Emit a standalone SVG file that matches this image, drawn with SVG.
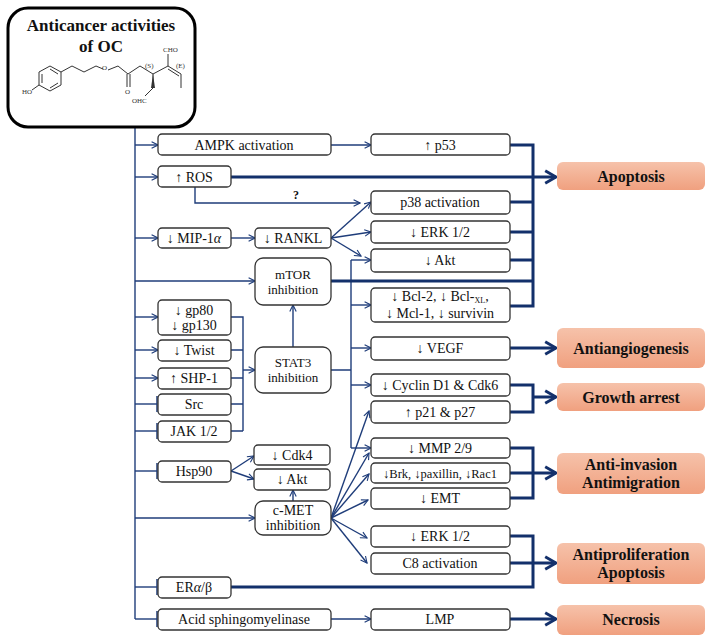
<svg xmlns="http://www.w3.org/2000/svg" width="712" height="644" viewBox="0 0 712 644">
<defs>
<linearGradient id="og" x1="0" y1="0" x2="0" y2="1"><stop offset="0" stop-color="#f6c2aa"/><stop offset="1" stop-color="#f0a07f"/></linearGradient>
<marker id="a" viewBox="0 0 10 10" refX="9" refY="5" markerWidth="8" markerHeight="8" markerUnits="userSpaceOnUse" orient="auto"><path d="M1,1 L9,5 L1,9" fill="none" stroke="#1f3d7a" stroke-width="1.4"/></marker>
<marker id="AA" viewBox="0 0 10 10" refX="8" refY="5" markerWidth="18" markerHeight="18" orient="auto" markerUnits="userSpaceOnUse"><path d="M2,1.5 L8,5 L2,8.5" fill="none" stroke="#13306b" stroke-width="1.6"/></marker>
<marker id="T" viewBox="0 0 4 16" refX="2" refY="8" markerWidth="4" markerHeight="16" orient="auto" markerUnits="userSpaceOnUse"><path d="M2,0 V16" stroke="#1f3d7a" stroke-width="1.5"/></marker>
</defs>
<style>
.b{fill:#fff;stroke:#333;stroke-width:1.3}
.o{fill:url(#og);stroke:none}
.t{font-size:14px;fill:#111;text-anchor:middle}
.ob{font-size:16px;font-weight:bold;fill:#111;text-anchor:middle}
.th{fill:none;stroke:#1f3d7a;stroke-width:1.4}
.tk{fill:none;stroke:#13306b;stroke-width:3}
.ch{fill:none;stroke:#333;stroke-width:1}
.cs{font-size:7px;fill:#333}
</style>
<g id="connectors">
<path class="th" d="M135,127 V619"/>
<path class="th" marker-end="url(#a)" d="M135,145 H158"/>
<path class="th" marker-end="url(#a)" d="M135,177 H158"/>
<path class="th" marker-end="url(#a)" d="M135,238 H158"/>
<path class="th" marker-end="url(#a)" d="M135,281 H255"/>
<path class="th" marker-end="url(#a)" d="M135,317 H158"/>
<path class="th" marker-end="url(#a)" d="M135,350 H158"/>
<path class="th" marker-end="url(#a)" d="M135,378 H158"/>
<path class="th" marker-end="url(#T)" d="M135,404 H157"/>
<path class="th" marker-end="url(#T)" d="M135,431 H157"/>
<path class="th" marker-end="url(#T)" d="M135,471 H157"/>
<path class="th" marker-end="url(#a)" d="M135,518 H255"/>
<path class="th" marker-end="url(#T)" d="M135,587 H157"/>
<path class="th" marker-end="url(#T)" d="M135,619 H157"/>
<path class="th" marker-end="url(#a)" d="M331,145 H371"/>
<path class="th" marker-end="url(#a)" d="M195,187 V203 H360"/>
<path class="th" marker-end="url(#a)" d="M231,238 H255"/>
<path class="th" marker-end="url(#a)" d="M331,238 L371,202"/>
<path class="th" marker-end="url(#a)" d="M331,238 L371,232"/>
<path class="th" marker-end="url(#a)" d="M331,238 L361,256"/>
<path class="th" d="M231,317 H243 V431 M231,350 H243 M231,378 H243 M231,404 H243 M231,431 H243"/>
<path class="th" marker-end="url(#a)" d="M243,370 H255"/>
<path class="th" marker-end="url(#a)" d="M293,347 V305"/>
<path class="th" d="M331,370 H351 M351,260 V448"/>
<path class="th" marker-end="url(#a)" d="M351,260 H371"/>
<path class="th" marker-end="url(#a)" d="M351,305 H371"/>
<path class="th" marker-end="url(#a)" d="M351,348 H371"/>
<path class="th" marker-end="url(#a)" d="M351,385 H371"/>
<path class="th" marker-end="url(#a)" d="M351,448 H371"/>
<path class="th" marker-end="url(#a)" d="M231,471 L254,456"/>
<path class="th" marker-end="url(#a)" d="M231,471 L254,479"/>
<path class="th" marker-end="url(#a)" d="M293,501 V490"/>
<path class="th" marker-end="url(#a)" d="M331,518 L369,411"/>
<path class="th" marker-end="url(#a)" d="M331,518 L369,453"/>
<path class="th" marker-end="url(#a)" d="M331,518 L369,474"/>
<path class="th" marker-end="url(#a)" d="M331,518 L368,500"/>
<path class="th" marker-end="url(#a)" d="M331,518 L367,538"/>
<path class="th" marker-end="url(#a)" d="M331,518 L367,563"/>
<path class="th" marker-end="url(#a)" d="M331,619 H371"/>
<path class="tk" d="M510,145 H533 V306 H510 M510,202 H533 M510,232 H533 M510,260 H533 M331,281 H533"/>
<path class="tk" marker-end="url(#AA)" d="M231,177 H556"/>
<path class="tk" marker-end="url(#AA)" d="M510,348 H556"/>
<path class="tk" d="M510,385 H533 V412 H510"/>
<path class="tk" marker-end="url(#AA)" d="M533,397 H556"/>
<path class="tk" d="M510,448 H533 V498 H510"/>
<path class="tk" marker-end="url(#AA)" d="M510,473 H556"/>
<path class="tk" d="M510,536 H533 V587 H231"/>
<path class="tk" marker-end="url(#AA)" d="M510,563 H556"/>
<path class="tk" marker-end="url(#AA)" d="M510,619 H556"/>
</g>
<g font-family="'Liberation Serif','DejaVu Serif',serif">
<g id="oc">
<rect x="8" y="8" width="187" height="119" rx="20" fill="#fff" stroke="#000" stroke-width="3"/>
<text class="ob" x="101" y="31" style="font-size:17px">Anticancer activities</text>
<text class="ob" x="101" y="52" style="font-size:17px">of OC</text>
<path class="ch" d="M50,66 L61,72 V85 L50,91 L39,85 V72 Z M42,74 V83 M50,88 L58,83 M58,74 L50,69 M61,72 L72,66 L84,72 L96,66 L103,69 M108,70 L118,66 L128,74 L140,66 L153,74 M127,74 V87 M130,74 V87 M153,74 V88 L145,96 M153,74 L168,66 V54 M168,66 L181,74 V88 M168,69 L179,76 M39,85 L32,90"/>
<path d="M153,74 L151,88 L155,88 Z" fill="#333"/>
<text class="cs" x="22" y="94">HO</text><text class="cs" x="102" y="70">O</text><text class="cs" x="125" y="94">O</text>
<text class="cs" x="132" y="103">OHC</text><text class="cs" x="163" y="52">CHO</text><text class="cs" x="145" y="68">(S)</text><text class="cs" x="176" y="68">(E)</text>
</g>
<g id="ampk"><rect class="b" x="158" y="134" width="173" height="21" rx="4"/><text class="t" x="244" y="150">AMPK activation</text></g>
<g id="ros"><rect class="b" x="158" y="166" width="73" height="21" rx="4"/><text class="t" x="194" y="182">↑ ROS</text></g>
<text class="t" x="296" y="199" style="font-weight:bold;font-size:12px">?</text>
<g id="mip"><rect class="b" x="158" y="228" width="73" height="20" rx="4"/><text class="t" x="194" y="243">↓ MIP-1<tspan font-style="italic">α</tspan></text></g>
<g id="rankl"><rect class="b" x="255" y="228" width="76" height="20" rx="4"/><text class="t" x="293" y="243">↓ RANKL</text></g>
<g id="mtor"><rect class="b" x="255" y="258" width="76" height="47" rx="8"/><text class="t" x="293" y="279" style="font-size:13px">mTOR</text><text class="t" x="293" y="294" style="font-size:13px">inhibition</text></g>
<g id="gp"><rect class="b" x="158" y="300" width="73" height="35" rx="4"/><text class="t" x="194" y="315">↓ gp80</text><text class="t" x="194" y="330">↓ gp130</text></g>
<g id="twist"><rect class="b" x="158" y="340" width="73" height="21" rx="4"/><text class="t" x="194" y="355">↓ Twist</text></g>
<g id="shp"><rect class="b" x="158" y="368" width="73" height="21" rx="4"/><text class="t" x="194" y="383">↑ SHP-1</text></g>
<g id="src"><rect class="b" x="158" y="394" width="73" height="21" rx="4"/><text class="t" x="194" y="409">Src</text></g>
<g id="jak"><rect class="b" x="158" y="421" width="73" height="21" rx="4"/><text class="t" x="194" y="436">JAK 1/2</text></g>
<g id="stat3"><rect class="b" x="255" y="347" width="76" height="46" rx="8"/><text class="t" x="293" y="367" style="font-size:13px">STAT3</text><text class="t" x="293" y="382" style="font-size:13px">inhibition</text></g>
<g id="hsp"><rect class="b" x="158" y="461" width="73" height="21" rx="4"/><text class="t" x="194" y="476">Hsp90</text></g>
<g id="cdk4"><rect class="b" x="254" y="445" width="76" height="20" rx="4"/><text class="t" x="292" y="460">↓ Cdk4</text></g>
<g id="akt1"><rect class="b" x="254" y="469" width="76" height="21" rx="4"/><text class="t" x="292" y="484">↓ Akt</text></g>
<g id="cmet"><rect class="b" x="255" y="501" width="76" height="34" rx="8"/><text class="t" x="293" y="515">c-MET</text><text class="t" x="293" y="530">inhibition</text></g>
<g id="er"><rect class="b" x="158" y="577" width="73" height="21" rx="4"/><text class="t" x="194" y="592">ER<tspan font-style="italic">α</tspan>/β</text></g>
<g id="asm"><rect class="b" x="158" y="609" width="173" height="21" rx="4"/><text class="t" x="244" y="624">Acid sphingomyelinase</text></g>
<g id="p53"><rect class="b" x="371" y="134" width="139" height="21" rx="4"/><text class="t" x="440" y="150">↑ p53</text></g>
<g id="p38"><rect class="b" x="371" y="191" width="139" height="23" rx="4"/><text class="t" x="440" y="207">p38  activation</text></g>
<g id="erk1"><rect class="b" x="371" y="221" width="139" height="22" rx="4"/><text class="t" x="440" y="237">↓ ERK 1/2</text></g>
<g id="akt2"><rect class="b" x="371" y="249" width="139" height="23" rx="4"/><text class="t" x="440" y="265">↓ Akt</text></g>
<g id="bcl"><rect class="b" x="371" y="288" width="139" height="34" rx="4"/><text class="t" x="440" y="301">↓ Bcl-2, ↓ Bcl-<tspan font-size="8" dy="2">XL</tspan><tspan dy="-2">,</tspan></text><text class="t" x="440" y="318">↓ Mcl-1, ↓ survivin</text></g>
<g id="vegf"><rect class="b" x="371" y="337" width="139" height="23" rx="4"/><text class="t" x="440" y="353">↓ VEGF</text></g>
<g id="cyc"><rect class="b" x="371" y="374" width="139" height="22" rx="4"/><text class="t" x="440" y="390">↓ Cyclin D1 &amp; Cdk6</text></g>
<g id="p21"><rect class="b" x="371" y="401" width="139" height="22" rx="4"/><text class="t" x="440" y="417">↑ p21 &amp; p27</text></g>
<g id="mmp"><rect class="b" x="371" y="438" width="139" height="20" rx="4"/><text class="t" x="440" y="453">↓ MMP 2/9</text></g>
<g id="brk"><rect class="b" x="371" y="463" width="139" height="20" rx="4"/><text class="t" x="440" y="478" style="font-size:12.5px">↓Brk, ↓paxillin, ↓Rac1</text></g>
<g id="emt"><rect class="b" x="371" y="488" width="139" height="21" rx="4"/><text class="t" x="440" y="503">↓ EMT</text></g>
<g id="erk2"><rect class="b" x="371" y="526" width="139" height="21" rx="4"/><text class="t" x="440" y="541">↓ ERK 1/2</text></g>
<g id="c8"><rect class="b" x="371" y="553" width="139" height="21" rx="4"/><text class="t" x="440" y="568">C8 activation</text></g>
<g id="lmp"><rect class="b" x="371" y="609" width="139" height="21" rx="4"/><text class="t" x="440" y="624">LMP</text></g>
<g id="apop"><rect class="o" x="557" y="162" width="148" height="28" rx="6"/><text class="ob" x="631" y="182">Apoptosis</text></g>
<g id="angio"><rect class="o" x="557" y="328" width="148" height="40" rx="6"/><text class="ob" x="631" y="354">Antiangiogenesis</text></g>
<g id="growth"><rect class="o" x="557" y="383" width="148" height="28" rx="6"/><text class="ob" x="631" y="403">Growth arrest</text></g>
<g id="inv"><rect class="o" x="557" y="453" width="148" height="41" rx="6"/><text class="ob" x="631" y="470">Anti-invasion</text><text class="ob" x="631" y="488">Antimigration</text></g>
<g id="prolif"><rect class="o" x="557" y="543" width="148" height="41" rx="6"/><text class="ob" x="631" y="560">Antiproliferation</text><text class="ob" x="631" y="578">Apoptosis</text></g>
<g id="necro"><rect class="o" x="557" y="605" width="148" height="30" rx="6"/><text class="ob" x="631" y="625">Necrosis</text></g>
</g>
</svg>
